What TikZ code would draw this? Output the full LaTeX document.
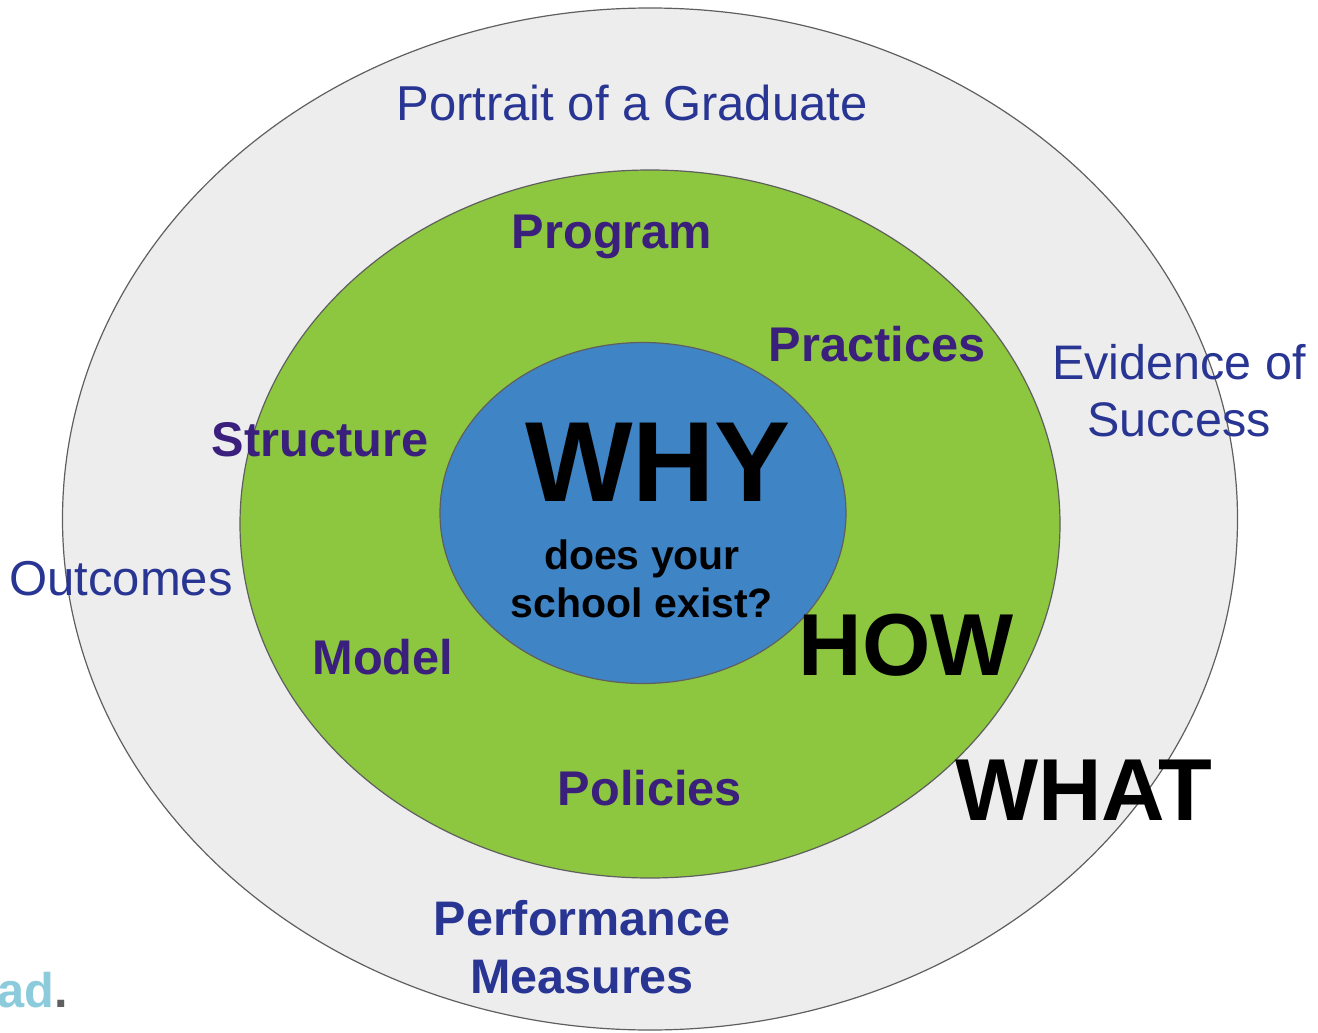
\documentclass[tikz,border=0pt]{standalone}
\usepackage{xcolor}
\usepackage{fontspec}
\setmainfont{Liberation Sans}
\usepackage{tikz}
\usetikzlibrary{shapes.geometric}

\definecolor{ringgrey}{HTML}{EDEDED}
\definecolor{ringline}{HTML}{5F5F5F}
\definecolor{howgreen}{HTML}{8DC63F}
\definecolor{whyblue}{HTML}{3F85C6}
\definecolor{outerblue}{HTML}{283593}
\definecolor{innerpurple}{HTML}{3A1F7C}
\definecolor{fadeblue}{HTML}{8CCBDB}

\begin{document}
\begin{tikzpicture}[x=1pt, y=-1pt,
                    ring/.style n args={3}{ellipse,draw=ringline,line width=1.2pt,
                    fill=#1,
                    minimum width=#2pt,
                    minimum height=#3pt,
                    inner sep=0pt},
                    lbl/.style n args={3}{text=#1,align=center,inner sep=0pt,
                    font=\fontsize{#2}{#3}\selectfont},
                    blbl/.style n args={3}{text=#1,align=center,inner sep=0pt,
                    font=\fontsize{#2}{#3}\selectfont\bfseries}]
    \useasboundingbox (0,0) rectangle (1318,1033);
    \node[ring={ringgrey}{1175}{1022}](what) at (650,519) {};
    \node[ring={howgreen}{820}{708}](how) at (650,524) {};
    \node[ring={whyblue}{406}{341}](why) at (643,513) {};

    \node[lbl={outerblue}{49}{57}](portrait) at (632,103) {Portrait of a Graduate};
    \node[lbl={outerblue}{49}{57}](outcomes) at (121,579) {Outcomes};
    \node[lbl={outerblue}{48.5}{57}](evidence) at (1179,391) {Evidence of\\Success};
    \node[blbl={outerblue}{48.5}{58}](measures) at (582,947) {Performance\\Measures};

    \node[blbl={innerpurple}{48.7}{57}](program) at (612,237) {Program};
    \node[blbl={innerpurple}{48.7}{57}](practices) at (877,344) {Practices};
    \node[blbl={innerpurple}{48.7}{57}](structure) at (320,440) {Structure};
    \node[blbl={innerpurple}{48.7}{57}](model) at (383,657) {Model};
    \node[blbl={innerpurple}{48.7}{57}](policies) at (650,788) {Policies};

    \node[blbl={black}{114}{130}](whytxt) at (658,462) {WHY};
    \node[blbl={black}{41}{48}](exist) at (642,579) {does your\\school exist?};
    \node[blbl={black}{88}{100}](howtxt) at (906,645) {HOW};
    \node[blbl={black}{88}{100}](whattxt) at (1084,790) {WHAT};

    \node[blbl={fadeblue}{48.7}{57},anchor=west](cut) at (-3,990) {ad\textcolor{ringline}{.}};
\end{tikzpicture}
\end{document}
